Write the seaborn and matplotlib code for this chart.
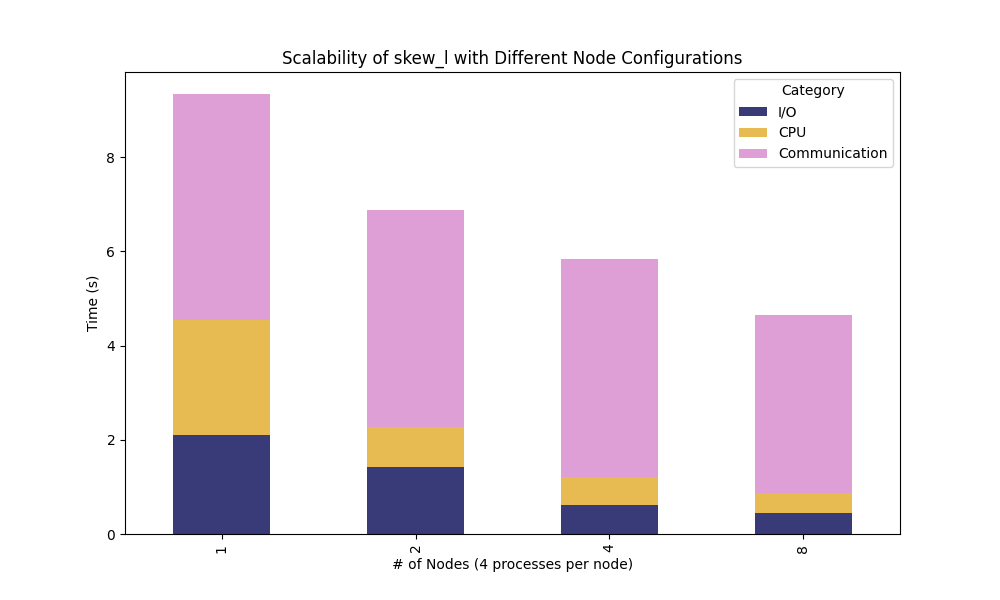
import pandas as pd
import seaborn as sns
from matplotlib import pyplot as plt

nodes = ['1', '2', '4', '8']
io = [2.10, 1.42, 0.62, 0.45]
cpu = [2.44, 0.85, 0.59, 0.42]
comm = [4.80, 4.61, 4.63, 3.78]

df = pd.DataFrame({'I/O': io, 'CPU': cpu, 'Communication': comm}, index=nodes)

colors = ['#393b79', '#e7ba52', '#de9ed6']
sns.set_palette(colors)

fig, ax = plt.subplots(figsize=(10, 6), dpi=100)
df.plot(kind='bar', stacked=True, ax=ax, color=colors)
ax.set_title('Scalability of skew_l with Different Node Configurations')
ax.set_xlabel('# of Nodes (4 processes per node)')
ax.set_ylabel('Time (s)')
ax.legend(title='Category')
plt.savefig('out.png')
